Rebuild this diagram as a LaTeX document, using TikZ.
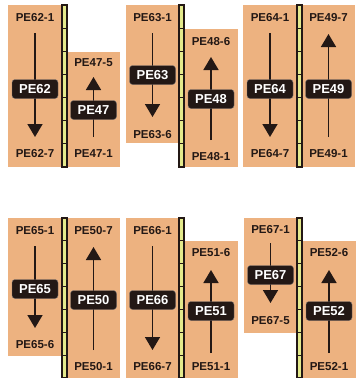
\documentclass[tikz,border=0pt]{standalone}
\usepackage{fontspec}
\setmainfont{Liberation Sans}
\usetikzlibrary{arrows.meta}
\definecolor{peach}{RGB}{237,178,128}
\definecolor{railfill}{RGB}{228,234,140}
\definecolor{ink}{RGB}{35,24,21}
\begin{document}
\begin{tikzpicture}[x=1pt,y=-1pt,
  lab/.style={font=\bfseries\fontsize{11.5}{11.5}\selectfont,text=ink,inner sep=0pt},
  tag/.style={fill=ink,draw=ink!60,rounded corners=3pt,text=white,minimum width=46pt,minimum height=19pt,inner sep=0pt,font=\bfseries\fontsize{13}{13}\selectfont},
  flow/.style={draw=ink,line width=1.6pt,-{Triangle[width=15pt,length=13pt]}},
  rail/.style={draw=ink,fill=railfill,line width=1.1pt}]
\useasboundingbox (0,0) rectangle (358,378);
% columns: number / box x / box y / top label / bottom label / tag y / arrow
\foreach \n/\xa/\xb/\ya/\yb/\ts/\ty/\bs/\by/\gy/\sa/\sb in {
  62/8/62/5/167/1/18/7/154/89/33/137, 47/67/120/52/167/5/63/1/154/110/137/77,
  63/126/179/5/143/1/18/6/135/75/33/117, 48/184/238/29/167/6/42/1/157/99/140/57,
  64/243/297/5/167/1/18/7/154/89/33/137, 49/302/355/5/167/7/18/1/154/89/137/34,
  65/8/62/218/356/1/231/6/345/289/246/328, 50/67/120/218/378/7/231/1/367/300/350/247,
  66/126/179/218/378/1/231/7/367/300/246/350, 51/184/238/241/378/6/253/1/367/311/353/270,
  67/244/297/218/333/1/230/5/321/275/243/303, 52/302/356/241/378/6/253/1/367/311/353/270}{
  \pgfmathsetmacro\cx{(\xa+\xb)/2}
  \fill[peach] (\xa,\ya) rectangle (\xb,\yb);
  \node[lab] (top\n) at (\cx,\ty) {PE\n-\ts};
  \node[lab] (bot\n) at (\cx,\by) {PE\n-\bs};
  \coordinate (s\n) at (\cx,\sa); \coordinate (e\n) at (\cx,\sb);
  \draw[flow] (s\n) -- (e\n);
  \node[tag] (tag\n) at (\cx,\gy) {PE\n};
}
% rails
\foreach \x in {62,179,297}{
  \foreach \ya/\yb in {5/167,218/378}{
    \draw[rail] (\x,\ya) rectangle (\x+5,\yb);
    \foreach \k in {1,...,6} \draw[ink,line width=1.1pt] (\x,{\ya+\k*(\yb-\ya)/7}) -- (\x+5,{\ya+\k*(\yb-\ya)/7});
  }
}
\end{tikzpicture}
\end{document}
